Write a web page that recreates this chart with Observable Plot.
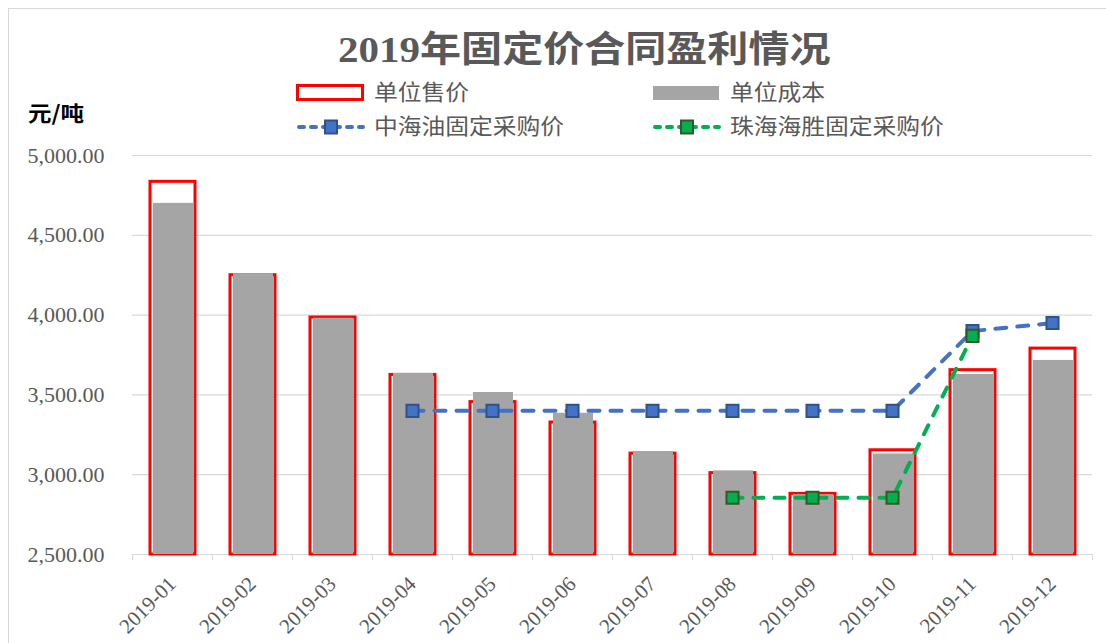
<!DOCTYPE html>
<html><head><meta charset="utf-8">
<script src="https://cdn.jsdelivr.net/npm/d3@7"></script>
<script src="https://cdn.jsdelivr.net/npm/@observablehq/plot@0.6"></script>
<style>
body{margin:0;background:#fff;}
#wrap{position:relative;width:1106px;height:643px;overflow:hidden;font-family:"Liberation Serif","Noto Sans CJK SC",serif;background:#fff;}
#frame{position:absolute;left:8px;top:8px;width:1200px;height:700px;border:1.5px solid #D9D9D9;}
#title{position:absolute;left:338px;top:30px;font-size:36px;font-weight:bold;color:#595959;line-height:40px;white-space:nowrap;transform:scaleX(1.14);transform-origin:0 50%;}
#ylab{position:absolute;left:28px;top:100px;font-family:"Noto Sans CJK SC",sans-serif;font-size:21px;font-weight:bold;color:#000;line-height:24px;transform:scaleX(1.12);transform-origin:0 50%;white-space:nowrap;}
.leg{position:absolute;height:24px;display:flex;align-items:center;white-space:nowrap;}
.leg span{font-size:22px;color:#595959;margin-left:8px;line-height:24px;display:inline-block;transform:scaleX(1.08);transform-origin:0 50%;}
#chart{position:absolute;left:0;top:140px;}
</style></head>
<body><div id="wrap">
<div id="frame"></div>
<div id="title"></div>
<div id="ylab"></div>
<div id="legend"></div>
<div id="chart"></div>
</div>
<script>
const chartTitle = "2019年固定价合同盈利情况";
const yUnit = "元/吨";
const months = ["2019-01","2019-02","2019-03","2019-04","2019-05","2019-06","2019-07","2019-08","2019-09","2019-10","2019-11","2019-12"];
const seriesNames = ["单位售价","单位成本","中海油固定采购价","珠海海胜固定采购价"];
const salePrice = [4835,4250,3985,3625,3455,3327,3132,3010,2880,3153,3655,3790];
const unitCost = [4700,4260,3980,3635,3515,3385,3145,3024,2875,3130,3628,3716];
const cnoocPrice = [null,null,null,3400,3400,3400,3400,3400,3400,3400,3900,3950];
const zhuhaiPrice = [null,null,null,null,null,null,null,2855,2855,2855,3870,null];
const yTicks = [2500,3000,3500,4000,4500,5000];

const RED="#FF0000", GRAY="#A5A5A5", BLUE="#4472C4", BLUE_D="#2F528F", GREEN="#00B050", GREEN_D="#385723";

document.getElementById("title").textContent = chartTitle;
document.getElementById("ylab").textContent = yUnit;

// legend
const legItems = [
  {name:seriesNames[0], left:296, top:81, sym:`<rect x="1.5" y="4.5" width="65" height="14" fill="#fff" stroke="${RED}" stroke-width="3"/>`},
  {name:seriesNames[1], left:652, top:81, sym:`<rect x="1" y="5" width="66" height="14" fill="${GRAY}"/>`},
  {name:seriesNames[2], left:296, top:115, sym:`<line x1="3" y1="12" x2="67" y2="12" stroke="${BLUE}" stroke-width="4" stroke-dasharray="5,7" stroke-linecap="round"/><rect x="29" y="5.5" width="12" height="13" fill="${BLUE}" stroke="${BLUE_D}" stroke-width="2"/>`},
  {name:seriesNames[3], left:652, top:115, sym:`<line x1="3" y1="12" x2="67" y2="12" stroke="${GREEN}" stroke-width="4" stroke-dasharray="5,7" stroke-linecap="round"/><rect x="29" y="5.5" width="12" height="13" fill="${GREEN}" stroke="${GREEN_D}" stroke-width="2"/>`}
];
const legend = document.getElementById("legend");
for (const it of legItems) {
  const d = document.createElement("div");
  d.className = "leg";
  d.style.left = it.left + "px";
  d.style.top = it.top + "px";
  d.innerHTML = `<svg width="70" height="24">${it.sym}</svg><span>${it.name}</span>`;
  legend.appendChild(d);
}

const rows = months.map((m,i)=>({month:m, sale:salePrice[i], cost:unitCost[i], cnooc:cnoocPrice[i], zh:zhuhaiPrice[i]}));
const cn = rows.filter(d=>d.cnooc!=null);
const zh = rows.filter(d=>d.zh!=null);

const plot = Plot.plot({
  width:1106, height:503,
  marginTop:15, marginBottom:89, marginLeft:132, marginRight:14,
  x:{type:"band", domain:months, padding:0},
  y:{domain:[2500,5000]},
  style:{background:"transparent", fontFamily:"Liberation Serif, serif", overflow:"visible"},
  marks:[
    Plot.gridY(yTicks,{stroke:"#D9D9D9", strokeOpacity:1, strokeWidth:1.2}),
    Plot.ruleX(months,{x:d=>d, dx:-40, y1:2500, y2:2462, stroke:"#D9D9D9", strokeWidth:1.2}),
    Plot.ruleX([months[months.length-1]],{x:d=>d, dx:40, y1:2500, y2:2462, stroke:"#D9D9D9", strokeWidth:1.2}),
    Plot.barY(rows,{x:"month", y1:2500, y2:"sale", fill:"#fff", stroke:RED, strokeWidth:3, insetLeft:18, insetRight:17}),
    Plot.barY(rows,{x:"month", y1:2500, y2:"cost", fill:GRAY, insetLeft:21, insetRight:19}),
    Plot.line(cn,{x:"month", y:"cnooc", stroke:BLUE, strokeWidth:4, strokeDasharray:"11,11", strokeLinecap:"round"}),
    Plot.dot(cn,{x:"month", y:"cnooc", symbol:"square", r:6.8, fill:BLUE, stroke:BLUE_D, strokeWidth:2}),
    Plot.line(zh,{x:"month", y:"zh", stroke:GREEN, strokeWidth:4, strokeDasharray:"10,11", strokeLinecap:"round"}),
    Plot.dot(zh,{x:"month", y:"zh", symbol:"square", r:6.8, fill:GREEN, stroke:GREEN_D, strokeWidth:2}),
    Plot.axisY(yTicks,{tickSize:0, tickPadding:28, tickFormat:d3.format(",.2f"), fontSize:22, fill:"#595959", label:null}),
    Plot.axisX({tickRotate:-45, tickSize:0, tickPadding:26, fontSize:21, fill:"#595959", label:null})
  ]
});
document.getElementById("chart").appendChild(plot);
</script>
</body></html>
